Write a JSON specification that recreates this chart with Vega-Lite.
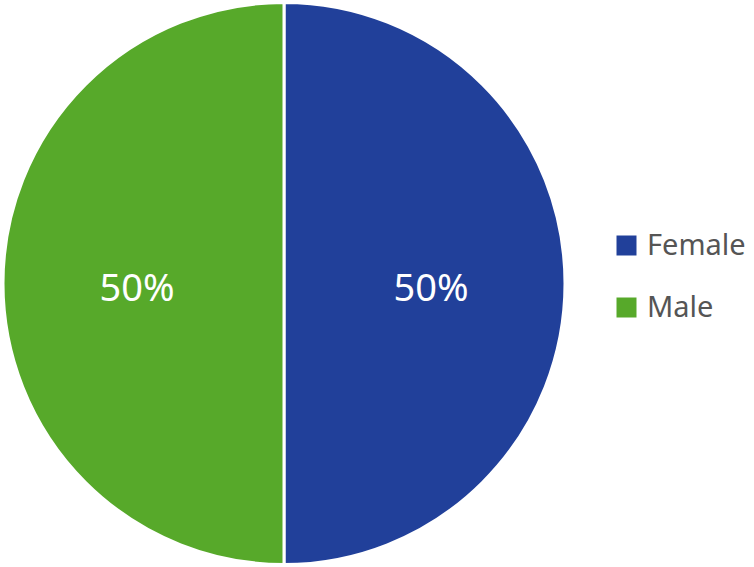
{
  "$schema": "https://vega.github.io/schema/vega-lite/v6.json",
  "width": 568,
  "height": 567,
  "padding": {"left": 0, "top": 0, "bottom": 0, "right": 186},
  "autosize": {"type": "none"},
  "background": "white",
  "config": {"view": {"stroke": null}},
  "data": {"values": [
    {"gender": "Female", "value": 50, "label": "50%"},
    {"gender": "Male", "value": 50, "label": "50%"}
  ]},
  "encoding": {
    "theta": {"field": "value", "type": "quantitative", "stack": true},
    "order": {"field": "gender", "sort": "ascending"},
    "color": {
      "field": "gender", "type": "nominal",
      "scale": {"domain": ["Female", "Male"], "range": ["#21409A", "#57A92A"]},
      "legend": {
        "title": null, "orient": "none", "legendX": 612, "legendY": 231,
        "symbolType": "square", "symbolSize": 400, "symbolStrokeWidth": 0,
        "labelFont": "Noto Sans", "labelFontSize": 29, "labelColor": "#555555",
        "labelOffset": 6, "rowPadding": 32
      }
    }
  },
  "layer": [
    {"mark": {"type": "arc", "outerRadius": 281, "stroke": "white", "strokeWidth": 3}},
    {"mark": {"type": "text", "radius": 147, "dy": 6, "font": "Noto Sans", "fontSize": 38, "fill": "white"},
     "encoding": {"text": {"field": "label"}, "color": {"value": "white"}}}
  ]
}
